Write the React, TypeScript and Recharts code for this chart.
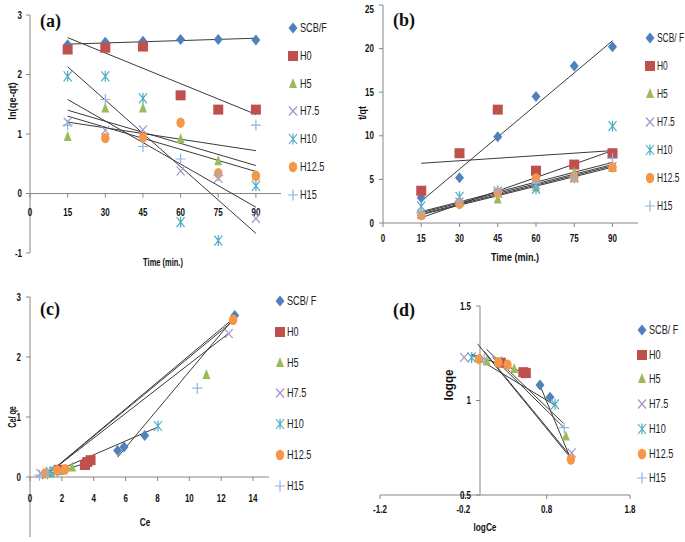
import { ScatterChart, Scatter, XAxis, YAxis, ReferenceLine, ReferenceDot } from "recharts";

const FONT = "'Liberation Sans', Arial, sans-serif";
const AXIS = "#868686";
const TREND = "#3a3a3a";
const SQUEEZE = 0.8;

const seriesNames = ["SCB/ F", "H0", "H5", "H7.5", "H10", "H12.5", "H15"];
const seriesColors = ["#4F81BD", "#C0504D", "#9BBB59", "#A593C8", "#4BACC6", "#F79646", "#8EB4E3"];
const seriesShapes = ["diamond", "square", "triangle", "x", "star", "circle", "plus"];

const time = [15, 30, 45, 60, 75, 90];
const timeTicks = [0, 15, 30, 45, 60, 75, 90];

// (a) pseudo-first-order, ln(qe-qt)
const lnSCB = [2.5, 2.54, 2.56, 2.59, 2.59, 2.58];
const lnH0 = [2.42, 2.45, 2.47, 1.65, 1.41, 1.41];
const lnH5 = [0.95, 1.43, 1.43, 0.91, 0.54, 0.29];
const lnH75 = [1.2, 1.06, 1.07, 0.38, 0.26, -0.42];
const lnH10 = [1.97, 1.97, 1.6, -0.48, -0.79, 0.13];
const lnH125 = [null, 0.93, 0.94, 1.19, 0.34, 0.3];
const lnH15 = [1.15, 1.58, 0.79, 0.58, 0.3, 1.15];
// trendlines: x1, y1, x2, y2
const trendA = [
  [15, 2.51, 90, 2.61],
  [15, 2.62, 90, 1.33],
  [15, 2.13, 90, -0.67],
  [15, 1.58, 90, -0.23],
  [15, 1.4, 90, 0.47],
  [15, 1.3, 90, 0.37],
  [15, 1.2, 90, 0.72],
];

// (b) pseudo-second-order, t/qt
const tqSCB = [2.9, 5.2, 9.9, 14.5, 18.0, 20.2];
const tqH0 = [3.7, 8.0, 13.0, 6.0, 6.7, 8.0];
const tqH5 = [1.0, 2.3, 2.7, 4.1, 5.8, 6.3];
const tqH75 = [1.0, 2.4, 3.4, 4.4, 5.3, 6.5];
const tqH10 = [1.9, 3.0, 3.6, 3.9, 5.2, 11.1];
const tqH125 = [0.9, 2.2, 3.5, 5.1, 5.25, 6.4];
const tqH15 = [1.2, 2.5, 3.7, 4.6, 5.3, 7.4];
const trendB = [
  [15, 2.5, 90, 20.9],
  [15, 6.85, 90, 8.3],
  [15, 0.6, 90, 8.3],
  [15, 1.3, 90, 6.95],
  [15, 1.2, 90, 6.7],
  [15, 1.05, 90, 6.55],
  [15, 0.95, 90, 6.4],
];

// (c) Langmuir, Ce vs Ce/qe
const langSCB = [[5.5, 0.44], [5.9, 0.5], [7.2, 0.69], [12.85, 2.69]];
const langH0 = [[1.8, 0.12], [3.45, 0.2], [3.6, 0.25], [3.8, 0.28]];
const langH5 = [[1.25, 0.06], [2.1, 0.11], [2.65, 0.16], [11.07, 1.7]];
const langH75 = [[0.65, 0.06], [1.6, 0.1], [12.47, 2.39]];
const langH10 = [[1.25, 0.08], [1.5, 0.09], [8.03, 0.85]];
const langH125 = [[0.95, 0.06], [1.7, 0.11], [2.2, 0.13], [12.75, 2.62]];
const langH15 = [[0.6, 0.03], [1.1, 0.05], [10.5, 1.48]];
const trendC = [
  [0.75, -0.03, 12.85, 2.66],
  [0.8, -0.02, 12.75, 2.6],
  [0.85, 0.0, 12.5, 2.4],
  [5.5, 0.33, 12.75, 2.63],
  [0.95, 0.02, 8.0, 0.83],
  [1.45, 0.06, 3.85, 0.26],
];

// (d) Freundlich, logCe vs logqe
const frSCB = [[0.72, 1.082], [0.84, 1.017]];
const frH0 = [[0.25, 1.2], [0.52, 1.15], [0.55, 1.145]];
const frH5 = [[0.08, 1.207], [0.41, 1.167], [1.03, 0.81]];
const frH75 = [[-0.19, 1.228], [0.22, 1.21], [1.1, 0.723]];
const frH10 = [[-0.1, 1.228], [0.9, 0.98]];
const frH125 = [[-0.01, 1.219], [0.22, 1.202], [0.33, 1.189], [1.09, 0.688]];
const frH15 = [[0.05, 1.22], [1.01, 0.856]];
const trendD = [
  [-0.1, 1.245, 0.58, 1.14],
  [-0.03, 1.3, 1.08, 0.7],
  [0.08, 1.27, 1.0, 0.88],
  [-0.1, 1.24, 0.92, 0.97],
  [0.05, 1.26, 1.06, 0.72],
  [0.71, 1.09, 1.08, 0.7],
  [0.15, 1.23, 1.0, 0.86],
];

const byTime = (vals: (number | null)[]) =>
  time.map((t, i) => ({ x: t, y: vals[i] })).filter((d) => d.y != null);
const byPair = (pairs: number[][]) => pairs.map((p) => ({ x: p[0], y: p[1] }));

const setsA = [lnSCB, lnH0, lnH5, lnH75, lnH10, lnH125, lnH15].map(byTime);
const setsB = [tqSCB, tqH0, tqH5, tqH75, tqH10, tqH125, tqH15].map(byTime);
const setsC = [langSCB, langH0, langH5, langH75, langH10, langH125, langH15].map(byPair);
const setsD = [frSCB, frH0, frH5, frH75, frH10, frH125, frH15].map(byPair);

function Marker({ kind, cx, cy, color }: { kind: string; cx: number; cy: number; color: string }) {
  switch (kind) {
    case "diamond":
      return <polygon points={`${cx},${cy - 5.5} ${cx + 4.5},${cy} ${cx},${cy + 5.5} ${cx - 4.5},${cy}`} fill={color} />;
    case "square":
      return <rect x={cx - 5} y={cy - 5} width={10} height={10} fill={color} />;
    case "triangle":
      return <polygon points={`${cx},${cy - 6} ${cx + 4},${cy + 4} ${cx - 4},${cy + 4}`} fill={color} />;
    case "x":
      return (
        <path d={`M${cx - 4},${cy - 4.5}L${cx + 4},${cy + 4.5}M${cx + 4},${cy - 4.5}L${cx - 4},${cy + 4.5}`}
          stroke={color} strokeWidth={1.2} fill="none" />
      );
    case "star":
      return (
        <path
          d={`M${cx - 4},${cy - 5}L${cx + 4},${cy + 5}M${cx + 4},${cy - 5}L${cx - 4},${cy + 5}M${cx},${cy - 5.5}L${cx},${cy + 5.5}`}
          stroke={color} strokeWidth={1.2} fill="none" />
      );
    case "circle":
      return <ellipse cx={cx} cy={cy} rx={4.2} ry={5.2} fill={color} />;
    default:
      return (
        <path d={`M${cx - 5},${cy}L${cx + 5},${cy}M${cx},${cy - 5.5}L${cx},${cy + 5.5}`}
          stroke={color} strokeWidth={1.2} fill="none" />
      );
  }
}

function renderSeries(sets: { x: number; y: number | null }[][]) {
  return sets.map((data, i) => (
    <Scatter
      key={seriesNames[i]}
      name={seriesNames[i]}
      data={data}
      isAnimationActive={false}
      shape={(p: any) => <Marker kind={seriesShapes[i]} cx={p.cx} cy={p.cy} color={seriesColors[i]} />}
    />
  ));
}

function renderTrends(lines: number[][]) {
  return lines.map((l, i) => (
    <ReferenceLine
      key={"t" + i}
      segment={[{ x: l[0], y: l[1] }, { x: l[2], y: l[3] }]}
      stroke={TREND}
      strokeWidth={1}
    />
  ));
}

// narrow bold tick text, anchored at (x, y)
function TickText({ x, y, anchor, dy, value }: { x: number; y: number; anchor: string; dy: string; value: any }) {
  return (
    <g transform={`translate(${x},${y}) scale(${SQUEEZE},1)`}>
      <text x={0} y={0} dy={dy} textAnchor={anchor as any} fontSize={10} fontWeight={700} fontFamily={FONT} fill="#111">
        {value}
      </text>
    </g>
  );
}

const xTick = (p: any) => <TickText x={p.x} y={p.y} anchor="middle" dy="0.71em" value={p.payload.value} />;
const yTick = (p: any) => <TickText x={p.x} y={p.y} anchor="end" dy="0.35em" value={p.payload.value} />;

// tick labels for an x axis that crosses at y = 0
function renderZeroXTicks(ticks: number[], gap: number) {
  return ticks.map((t) => (
    <ReferenceDot
      key={"x" + t}
      x={t}
      y={0}
      r={0}
      shape={(p: any) => (
        <g>
          <line x1={p.cx} y1={p.cy} x2={p.cx} y2={p.cy + 4} stroke={AXIS} />
          <TickText x={p.cx} y={p.cy + gap} anchor="middle" dy="0.35em" value={t} />
        </g>
      )}
    />
  ));
}

function Legend({ left, top, step, first, squeeze = 0.76 }: { left: number; top: number; step: number; first: string; squeeze?: number }) {
  return (
    <>
      {seriesNames.map((name, i) => (
        <div
          key={name}
          style={{
            position: "absolute",
            left: left - 6,
            top: top + i * step - 7,
            height: 14,
            display: "flex",
            alignItems: "center",
            whiteSpace: "nowrap",
            fontFamily: FONT,
            fontSize: 12,
            color: "#222",
          }}
        >
          <svg width={12} height={14}>
            <Marker kind={seriesShapes[i]} cx={6} cy={7} color={seriesColors[i]} />
          </svg>
          <span style={{ display: "inline-block", marginLeft: 1, transform: `scaleX(${squeeze})`, transformOrigin: "left center" }}>
            {i === 0 ? first : name}
          </span>
        </div>
      ))}
    </>
  );
}

function Title({ x, y, text, rotate, size = 11, squeeze = 0.8 }: { x: number; y: number; text: string; rotate?: boolean; size?: number; squeeze?: number }) {
  return (
    <div
      style={{
        position: "absolute",
        left: x,
        top: y,
        transform: `translate(-50%, -50%)${rotate ? " rotate(-90deg)" : ""} scaleX(${squeeze})`,
        fontFamily: FONT,
        fontWeight: 700,
        fontSize: size,
        whiteSpace: "nowrap",
        color: "#111",
      }}
    >
      {text}
    </div>
  );
}

function PanelLabel({ x, y, text }: { x: number; y: number; text: string }) {
  return (
    <div
      style={{
        position: "absolute",
        left: x,
        top: y,
        transform: "translateY(-50%)",
        fontFamily: "'Liberation Serif', 'Times New Roman', serif",
        fontWeight: 700,
        fontSize: 18,
        color: "#111",
      }}
    >
      {text}
    </div>
  );
}

export default function App() {
  return (
    <div style={{ position: "absolute", left: 0, top: 0, width: 685, height: 542, background: "#fff", overflow: "hidden" }}>
      {/* (a) */}
      <div style={{ position: "absolute", left: 0, top: 0 }}>
        <ScatterChart width={340} height={270} margin={{ top: 15, right: 59, bottom: 17, left: 0 }}>
          <XAxis type="number" dataKey="x" domain={[0, 100]} hide />
          <YAxis
            type="number"
            dataKey="y"
            domain={[-1, 3]}
            ticks={[-1, 0, 1, 2, 3]}
            width={30}
            tickSize={4}
            tickMargin={4}
            axisLine={{ stroke: AXIS }}
            tickLine={{ stroke: AXIS }}
            tick={yTick}
          />
          <ReferenceLine y={0} stroke={AXIS} />
          {renderZeroXTicks(timeTicks, 19)}
          {renderSeries(setsA)}
          {renderTrends(trendA)}
        </ScatterChart>
      </div>

      {/* (b) */}
      <div style={{ position: "absolute", left: 340, top: 0 }}>
        <ScatterChart width={345} height={270} margin={{ top: 5, right: 47, bottom: 27, left: 0 }}>
          <XAxis
            type="number"
            dataKey="x"
            domain={[0, 100]}
            ticks={timeTicks}
            height={20}
            tickSize={4}
            tickMargin={8}
            axisLine={{ stroke: AXIS }}
            tickLine={{ stroke: AXIS }}
            tick={xTick}
          />
          <YAxis
            type="number"
            dataKey="y"
            domain={[0, 25]}
            ticks={[0, 5, 10, 15, 20, 25]}
            width={43}
            tickSize={4}
            tickMargin={5}
            axisLine={{ stroke: AXIS }}
            tickLine={{ stroke: AXIS }}
            tick={yTick}
          />
          {renderSeries(setsB)}
          {renderTrends(trendB)}
        </ScatterChart>
      </div>

      {/* (c) */}
      <div style={{ position: "absolute", left: 0, top: 270 }}>
        <ScatterChart width={340} height={272} margin={{ top: 27, right: 71, bottom: 5, left: 0 }}>
          <XAxis type="number" dataKey="x" domain={[0, 15]} hide />
          <YAxis
            type="number"
            dataKey="y"
            domain={[-1, 3]}
            ticks={[-1, 0, 1, 2, 3]}
            width={30}
            tickSize={4}
            tickMargin={5}
            axisLine={{ stroke: AXIS }}
            tickLine={{ stroke: AXIS }}
            tick={yTick}
          />
          <ReferenceLine y={0} stroke={AXIS} />
          {renderZeroXTicks([0, 2, 4, 6, 8, 10, 12, 14], 21)}
          {renderSeries(setsC)}
          {renderTrends(trendC)}
        </ScatterChart>
      </div>

      {/* (d) */}
      <div style={{ position: "absolute", left: 340, top: 270 }}>
        <ScatterChart width={345} height={272} margin={{ top: 36, right: 55, bottom: 27, left: 40 }}>
          <XAxis
            type="number"
            dataKey="x"
            domain={[-1.2, 1.8]}
            ticks={[-1.2, -0.2, 0.8, 1.8]}
            height={20}
            tickSize={4}
            tickMargin={7}
            axisLine={{ stroke: AXIS }}
            tickLine={{ stroke: AXIS }}
            tick={xTick}
          />
          <YAxis type="number" dataKey="y" domain={[0.5, 1.5]} hide />
          <ReferenceLine x={0} stroke={AXIS} />
          {[0.5, 1, 1.5].map((v) => (
            <ReferenceDot
              key={"y" + v}
              x={0}
              y={v}
              r={0}
              shape={(p: any) => (
                <g>
                  <line x1={p.cx - 4} y1={p.cy} x2={p.cx} y2={p.cy} stroke={AXIS} />
                  <TickText x={p.cx - 9} y={p.cy} anchor="end" dy="0.35em" value={v} />
                </g>
              )}
            />
          ))}
          {renderSeries(setsD)}
          {renderTrends(trendD)}
        </ScatterChart>
      </div>

      <PanelLabel x={40} y={21} text="(a)" />
      <PanelLabel x={393} y={20} text="(b)" />
      <PanelLabel x={40} y={309} text="(c)" />
      <PanelLabel x={393} y={310} text="(d)" />

      <Title x={12} y={101} text="ln(qe-qt)" rotate squeeze={0.85} />
      <Title x={163} y={262} text="Time (min.)" squeeze={0.68} />
      <Title x={362} y={113} text="t/qt" rotate />
      <Title x={515} y={257} text="Time (min.)" squeeze={0.82} />
      <Title x={12} y={417} text="Ce/ qe" rotate size={10} squeeze={0.72} />
      <Title x={145} y={522} text="Ce" squeeze={0.75} />
      <Title x={448} y={385} text="logqe" rotate size={13} squeeze={0.9} />
      <Title x={485} y={527} text="logCe" squeeze={0.75} />

      <Legend left={293} top={28} step={27.8} first="SCB/F" />
      <Legend left={650} top={38} step={28} first="SCB/ F" squeeze={0.7} />
      <Legend left={280} top={301} step={30.8} first="SCB/ F" />
      <Legend left={642} top={330} step={24.7} first="SCB/ F" />
    </div>
  );
}
